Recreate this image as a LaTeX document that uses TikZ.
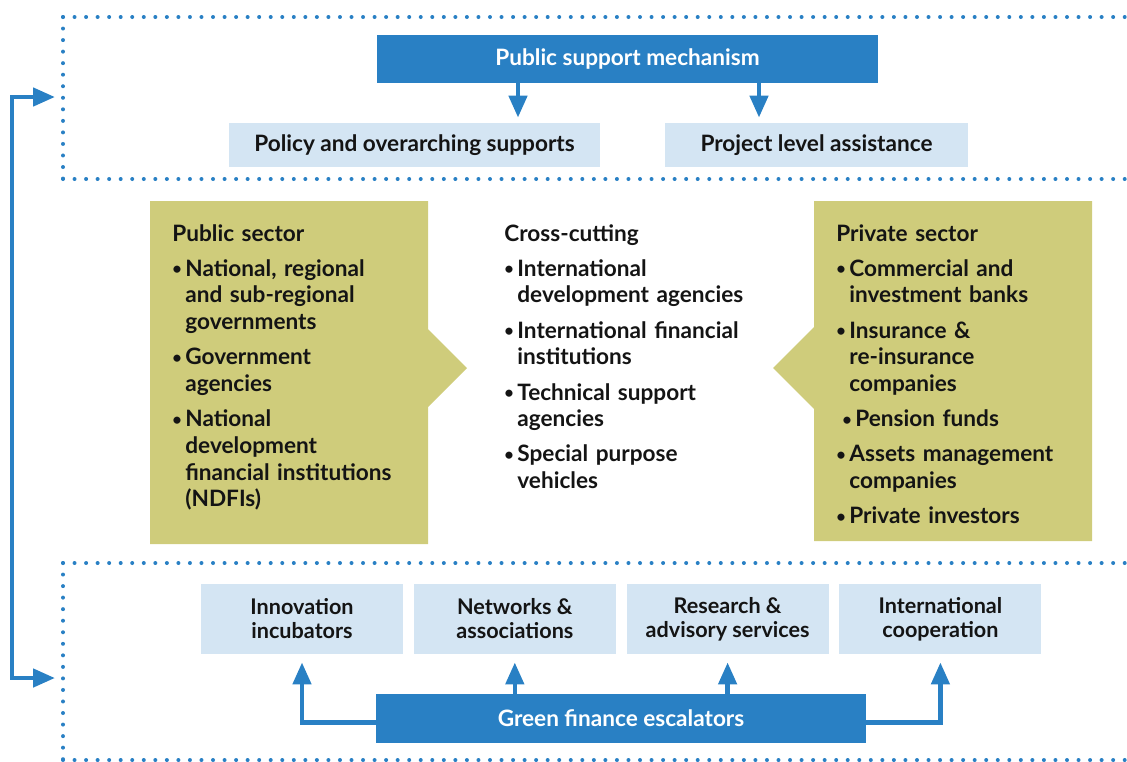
\documentclass[tikz,border=0pt]{standalone}
\usepackage{fontspec}
\setmainfont{Lato}
\usetikzlibrary{arrows.meta,positioning}

\definecolor{gfblue}{HTML}{2980C4}
\definecolor{gflight}{HTML}{D4E5F3}
\definecolor{gfolive}{HTML}{CFCC7B}
\definecolor{gfink}{HTML}{141414}

%% bullet line with hanging indent (optional extra shift)
\newcommand{\dotmark}{\raisebox{0.06em}{\scalebox{0.72}{\textbullet}}}
\newcommand{\bul}[2][0pt]{\par\vspace{4.25pt}\hangindent=\dimexpr6.5pt+#1\relax\hangafter=1
  \noindent\hspace*{#1}\makebox[6.5pt][l]{\dotmark}#2}

\begin{document}
\begin{tikzpicture}[x=0.5pt, y=-0.5pt,
  %% ── Node styles ──────────────────────────────────────────────────────────
  bar/.style={fill=gfblue, text=white, inner sep=0pt,
              font=\fontsize{11.3}{13}\selectfont\bfseries},
  tile/.style={fill=gflight, text=gfink, inner sep=0pt, align=center,
               font=\fontsize{11.3}{12}\selectfont\bfseries},
  esc/.style={tile, minimum width=101pt, minimum height=35pt,
              font=\fontsize{10.8}{12}\selectfont\bfseries},
  list/.style={anchor=base west, inner sep=0pt, text width=130pt, align=left,
               text=gfink, font=\fontsize{11.3}{13.35}\selectfont\bfseries},
  %% ── Line styles ──────────────────────────────────────────────────────────
  arr/.style={-{Triangle[length=11pt,width=9pt]}, line width=2.3pt, gfblue},
  dots/.style={gfblue, line width=2pt, line cap=round,
               dash pattern=on 0pt off 5.77pt}
]
\useasboundingbox (0,0) rectangle (1127,761);

%% ── Dotted frames (open to the right) ───────────────────────────────────────
\draw[dots] (63,17)  -- (1127,17);
\draw[dots] (63,17)  -- (63,179);
\draw[dots] (63,179) -- (1127,179);
\draw[dots] (63,563) -- (1127,563);
\draw[dots] (63,563) -- (63,760);
\draw[dots] (63,760) -- (1127,760);

%% ── Support mechanism row ───────────────────────────────────────────────────
\node[bar, minimum width=250.5pt, minimum height=24pt] (psm) at (627.5,59)
  {Public support mechanism};
\node[tile, minimum width=185.5pt, minimum height=22pt] (pol) at (414.5,145)
  {Policy and overarching supports};
\node[tile, minimum width=151.5pt, minimum height=22pt] (proj) at (816.5,145)
  {Project level assistance};

\coordinate (polx)  at (518,0);
\coordinate (projx) at (759,0);
\draw[arr, shorten >=2.5pt] (psm.south -| polx)  -- (pol.north -| polx);
\draw[arr, shorten >=2.5pt] (psm.south -| projx) -- (proj.north -| projx);

%% ── Sector panels ───────────────────────────────────────────────────────────
\fill[gfolive] (150,201) -- (428,201) -- (428,329) -- (467,368) -- (428,407)
  -- (428,544) -- (150,544) -- cycle;
\fill[gfolive] (814,201) -- (1092,201) -- (1092,541) -- (814,541) -- (814,409)
  -- (773,368) -- (814,327) -- cycle;

\node[list] (pub) at (172,241) {Public sector
  \bul{National, regional\newline and sub-regional\newline governments}
  \bul{Government\newline agencies}
  \bul{National\newline development\newline financial institutions\newline (NDFIs)}\par};

\node[list] (cross) at (504,241) {Cross-cutting
  \bul{International\newline development agencies}
  \bul{International financial\newline institutions}
  \bul{Technical support\newline agencies}
  \bul{Special purpose\newline vehicles}\par};

\node[list] (priv) at (836,241) {Private sector
  \bul{Commercial and\newline investment banks}
  \bul{Insurance \&\newline re-insurance\newline companies}
  \bul[3pt]{Pension funds}
  \bul{Assets management\newline companies}
  \bul{Private investors}\par};

%% ── Escalator row ───────────────────────────────────────────────────────────
\node[esc] (inno) at (302,619) {Innovation\\incubators};
\node[esc, right=5pt of inno] (net)  {Networks \&\\associations};
\node[esc, right=5pt of net]  (res)  {Research \&\\advisory services};
\node[esc, right=5pt of res]  (intl) {International\\cooperation};

\node[bar, minimum width=245pt, minimum height=24.5pt] (gfe) at (621,718.5)
  {Green finance escalators};

\draw[arr, shorten >=4pt] ([yshift=-2pt]gfe.west) -| (inno.south);
\draw[arr, shorten >=4pt] ([yshift=-2pt]gfe.east) -| (intl.south);
\draw[arr, shorten >=4pt] (gfe.north -| net.south) -- (net.south);
\draw[arr, shorten >=4pt] (gfe.north -| res.south) -- (res.south);

%% ── Loop between the two frames ─────────────────────────────────────────────
\coordinate (topin) at (55,97);
\coordinate (botin) at (55,678);
\coordinate (rail)  at (12,0);
\draw[arr, {Triangle[length=11pt,width=9pt]}-{Triangle[length=11pt,width=9pt]}]
  (topin) -| (rail |- botin) -- (botin);

\end{tikzpicture}
\end{document}
